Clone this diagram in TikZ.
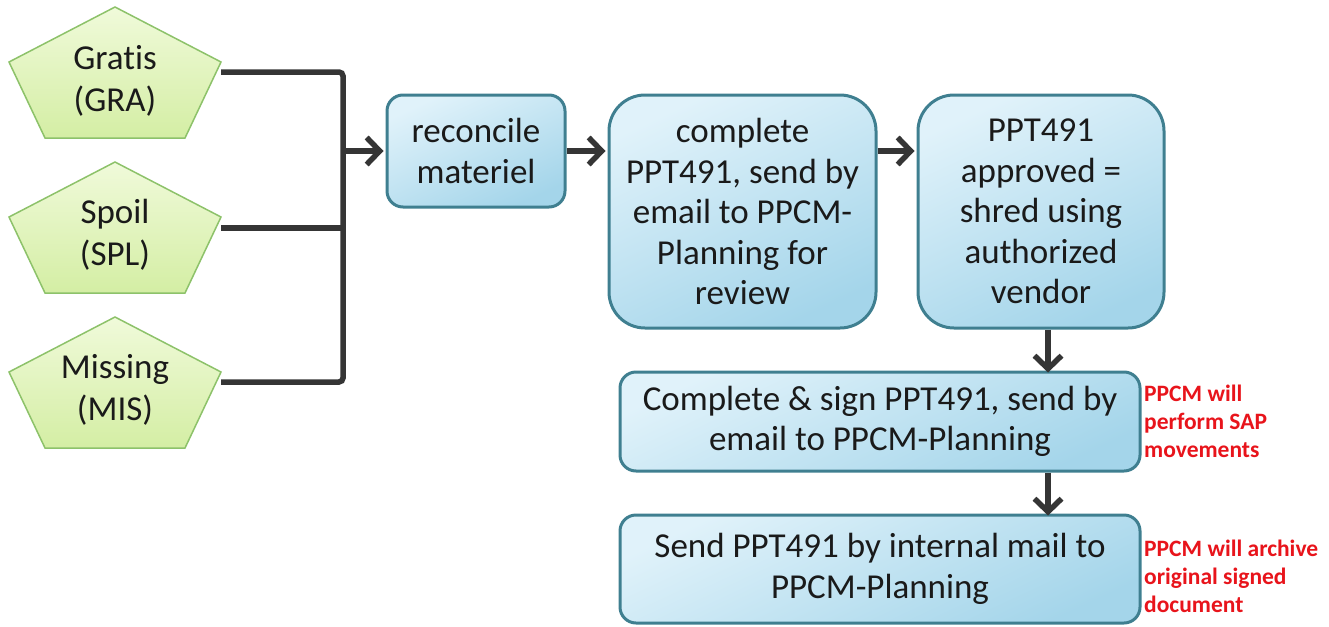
\documentclass[tikz,border=0pt]{standalone}
\usepackage{fontspec}
\setmainfont{Carlito}[Ligatures={NoCommon,NoRequired}]
\usetikzlibrary{arrows.meta}
\definecolor{boxedge}{HTML}{3F7F90}
\definecolor{boxtop}{HTML}{E0F2FA}
\definecolor{boxbot}{HTML}{A4D5EA}
\definecolor{pentedge}{HTML}{8DC26A}
\definecolor{penttop}{HTML}{F0FADA}
\definecolor{pentbot}{HTML}{D4EEA4}
\definecolor{conn}{HTML}{353535}
\definecolor{note}{HTML}{E8141B}
\definecolor{ink}{HTML}{1A1A1A}
\begin{document}
\begin{tikzpicture}[x=1pt,y=-1pt,
  box/.style={draw=boxedge,line width=3pt,top color=boxtop,bottom color=boxbot,shading angle=25,
    align=center,font=\fontsize{35}{40.5}\selectfont,text=ink,inner sep=0pt},
  pent/.style={draw=pentedge,line width=1.5pt,top color=penttop,bottom color=pentbot},
  penttext/.style={align=center,font=\fontsize{35}{42}\selectfont,text=ink,inner sep=0pt},
  line/.style={draw=conn,line width=5.5pt},
  arr/.style={line,-{Straight Barb[length=13pt,width=27pt]}},
  notetext/.style={anchor=west,align=left,font=\bfseries\fontsize{23.5}{28}\selectfont,text=note,inner sep=0pt}]
\useasboundingbox (0,0) rectangle (1329,626);

% pentagons
\shadedraw[pent] (115,7) -- (221,62) -- (185,138) -- (45,138) -- (9,62) -- cycle;
\shadedraw[pent] (115,162) -- (221,217) -- (185,293) -- (45,293) -- (9,217) -- cycle;
\shadedraw[pent] (115,317) -- (221,372) -- (185,448) -- (45,448) -- (9,372) -- cycle;
\node[penttext] (gra) at (115,81) {Gratis\\(GRA)};
\node[penttext] (spl) at (115,235) {Spoil\\(SPL)};
\node[penttext] (mis) at (115,390) {Missing\\(MIS)};

% process boxes
\node[box,minimum width=178pt,minimum height=112pt,rounded corners=16pt] (rec) at (476,151) {reconcile\\materiel};
\node[box,minimum width=267pt,minimum height=233pt,rounded corners=36pt] (cmp) at (742.5,211.5) {complete\\PPT491, send by\\email to PPCM-\\Planning for\\review};
\node[box,minimum width=246pt,minimum height=233pt,rounded corners=36pt] (apr) at (1041,211.5) {PPT491\\approved =\\shred using\\authorized\\vendor};
\node[box,minimum width=520pt,minimum height=99pt,rounded corners=16pt] (sign) at (880,421.5) {Complete \& sign PPT491, send by\\email to PPCM-Planning};
\node[box,minimum width=520pt,minimum height=108pt,rounded corners=16pt] (send) at (880,569) {Send PPT491 by internal mail to\\PPCM-Planning};

% notes
\node[notetext] (n1) at (1144,421) {PPCM will\\perform SAP\\movements};
\node[notetext] (n2) at (1144,576) {PPCM will archive\\original signed\\document};

% bracket connectors
\coordinate (gR) at (221,72);
\coordinate (sR) at (221,228);
\coordinate (mR) at (221,382);
\coordinate (busT) at (343,72);
\coordinate (busB) at (343,382);
\coordinate (ax) at (1048,0);
\draw[line,rounded corners=4pt] (gR) -- (busT) -- (busB) -- (mR);
\draw[line] (sR) -- (sR -| busT);
\draw[arr] (busT |- rec.west) -- ([xshift=-2pt]rec.west);
\draw[arr] (rec.east) -- ([xshift=-2pt]cmp.west |- rec.east);
\draw[arr] (cmp.east |- rec.east) -- ([xshift=-2pt]apr.west |- rec.east);
\draw[arr] (apr.south -| ax) -- ([yshift=-2pt]sign.north -| ax);
\draw[arr] (sign.south -| ax) -- ([yshift=-2pt]send.north -| ax);
\end{tikzpicture}
\end{document}
